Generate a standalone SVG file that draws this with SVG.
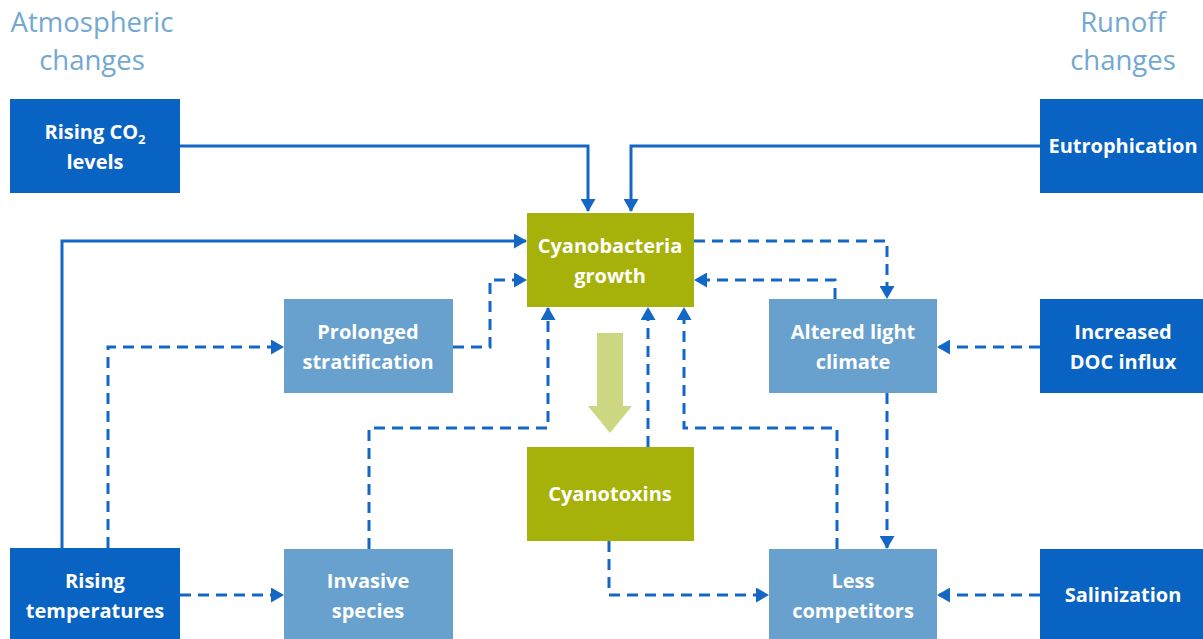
<svg xmlns="http://www.w3.org/2000/svg" width="1203" height="639" viewBox="0 0 1203 639">
<style>
.dark{fill:#0863C2}
.light{fill:#68A1CD}
.olive{fill:#A6B20A}
.t{font-family:"Open Sans","Liberation Sans",sans-serif;font-weight:bold;font-size:20px;fill:#fff;text-anchor:middle}
.h{font-family:"Open Sans","Liberation Sans",sans-serif;font-size:27.5px;fill:#72A8D2;text-anchor:middle}
.s{fill:none;stroke:#1467C4;stroke-width:3}
.d{fill:none;stroke:#1467C4;stroke-width:3;stroke-dasharray:11 7}
</style>
<defs>
<marker id="ah" viewBox="0 0 13 15" refX="12" refY="7.5" markerWidth="13" markerHeight="15" markerUnits="userSpaceOnUse" orient="auto">
<path d="M0,0 L13,7.5 L0,15 Z" fill="#1467C4"/>
</marker>
</defs>
<rect width="1203" height="639" fill="#fff"/>
<text class="h" x="92" y="32">Atmospheric</text>
<text class="h" x="92" y="70">changes</text>
<text class="h" x="1123" y="32">Runoff</text>
<text class="h" x="1123" y="70">changes</text>

<g id="connectors">
<path class="s" d="M180,146 H588 V211" marker-end="url(#ah)"/>
<path class="s" d="M1040,146 H631 V211" marker-end="url(#ah)"/>
<path class="s" d="M62,548 V241 H526" marker-end="url(#ah)"/>
<path class="d" d="M108,548 V347 H283" marker-end="url(#ah)"/>
<path class="d" d="M180,595 H283" marker-end="url(#ah)"/>
<path class="d" d="M453,347 H490 V280 H526" marker-end="url(#ah)"/>
<path class="d" d="M369,549 V428 H548 V308" marker-end="url(#ah)"/>
<path class="d" d="M648,447 V308" marker-end="url(#ah)"/>
<path class="d" d="M837,549 V428 H684 V308" marker-end="url(#ah)"/>
<path class="d" d="M694,241 H887 V298" marker-end="url(#ah)"/>
<path class="d" d="M835,299 V280 H695" marker-end="url(#ah)"/>
<path class="d" d="M1040,347 H938" marker-end="url(#ah)"/>
<path class="d" d="M887,393 V548" marker-end="url(#ah)"/>
<path class="d" d="M609,541 V595 H768" marker-end="url(#ah)"/>
<path class="d" d="M1040,595 H938" marker-end="url(#ah)"/>
<path d="M597,333 H623 V406 H632 L610,433 L588,406 H597 Z" fill="#CDD680"/>
</g>

<g id="rising-co2"><rect class="dark" x="10" y="99" width="170" height="94"/>
<text class="t" x="95" y="139">Rising CO<tspan font-size="13" dy="5">2</tspan></text>
<text class="t" x="95" y="169">levels</text></g>
<g id="eutrophication"><rect class="dark" x="1040" y="99" width="163" height="94"/>
<text class="t" x="1123" y="153">Eutrophication</text></g>
<g id="cyanobacteria"><rect class="olive" x="527" y="213" width="167" height="94"/>
<text class="t" x="610" y="253">Cyanobacteria</text>
<text class="t" x="610" y="283">growth</text></g>
<g id="prolonged"><rect class="light" x="284" y="299" width="169" height="94"/>
<text class="t" x="368" y="339">Prolonged</text>
<text class="t" x="368" y="369">stratification</text></g>
<g id="altered"><rect class="light" x="769" y="299" width="168" height="94"/>
<text class="t" x="853" y="339">Altered light</text>
<text class="t" x="853" y="369">climate</text></g>
<g id="doc"><rect class="dark" x="1040" y="299" width="163" height="94"/>
<text class="t" x="1123" y="339">Increased</text>
<text class="t" x="1123" y="369">DOC influx</text></g>
<g id="cyanotoxins"><rect class="olive" x="527" y="447" width="167" height="94"/>
<text class="t" x="610" y="501">Cyanotoxins</text></g>
<g id="rising-temp"><rect class="dark" x="10" y="548" width="170" height="91"/>
<text class="t" x="95" y="588">Rising</text>
<text class="t" x="95" y="618">temperatures</text></g>
<g id="invasive"><rect class="light" x="284" y="549" width="169" height="90"/>
<text class="t" x="368" y="588">Invasive</text>
<text class="t" x="368" y="618">species</text></g>
<g id="less"><rect class="light" x="769" y="549" width="168" height="90"/>
<text class="t" x="853" y="588">Less</text>
<text class="t" x="853" y="618">competitors</text></g>
<g id="salinization"><rect class="dark" x="1040" y="549" width="163" height="90"/>
<text class="t" x="1123" y="602">Salinization</text></g>
</svg>
